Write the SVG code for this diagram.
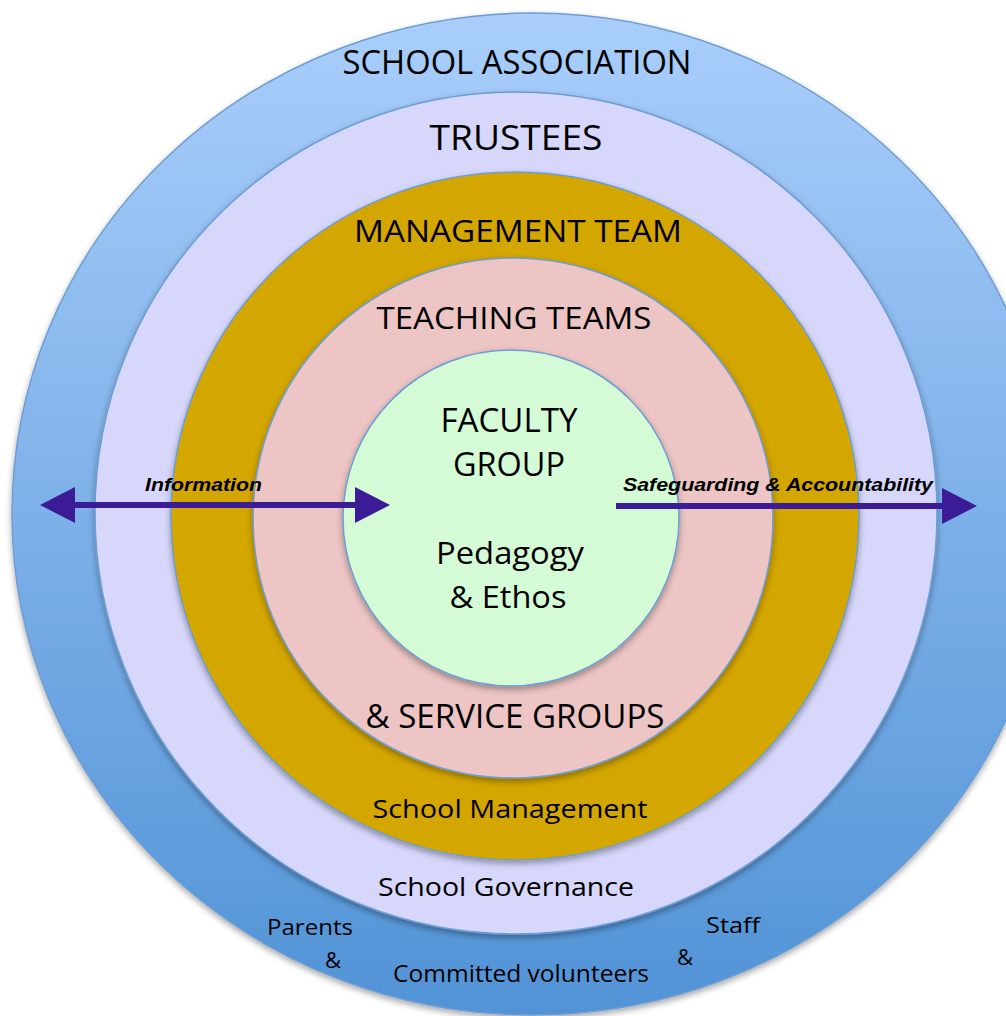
<svg xmlns="http://www.w3.org/2000/svg" width="1006" height="1016" viewBox="0 0 1006 1016">
  <defs>
    <linearGradient id="gOuter" x1="0" y1="0" x2="0" y2="1">
      <stop offset="0" stop-color="#a9cefb"/>
      <stop offset="1" stop-color="#5193d6"/>
    </linearGradient>
    <filter id="shadow" x="-10%" y="-10%" width="120%" height="120%">
      <feDropShadow dx="0" dy="3" stdDeviation="3" flood-color="#000" flood-opacity="0.35"/>
    </filter>
    <marker id="head" markerUnits="userSpaceOnUse" markerWidth="36" markerHeight="36" refX="0" refY="18" orient="auto-start-reverse" viewBox="0 0 36 36">
      <path d="M0,0 L35,18 L0,36 Z" fill="#3b1c96"/>
    </marker>
    <style>
      .ring { stroke: #6d9dd2; stroke-width: 1.5; filter: url(#shadow); }
      .lbl { font-family: "Open Sans", "Noto Sans", sans-serif; fill: #000; text-anchor: middle; }
      .it { font-family: "Liberation Sans", Arial, sans-serif; font-weight: bold; font-style: italic; fill: #000; }
      .conn { stroke: #3b1c96; stroke-width: 6; fill: none; }
    </style>
  </defs>
  <rect width="1006" height="1016" fill="#fff"/>

  <g id="school-association">
    <ellipse class="ring" cx="532" cy="514" rx="520" ry="501" fill="url(#gOuter)"/>
    <text class="lbl" x="517" y="74" font-size="32" textLength="349" lengthAdjust="spacingAndGlyphs">SCHOOL ASSOCIATION</text>
    <text class="lbl" x="310" y="935" font-size="22" textLength="86" lengthAdjust="spacingAndGlyphs">Parents</text>
    <text class="lbl" x="333" y="968" font-size="22">&amp;</text>
    <text class="lbl" x="521" y="982" font-size="23" textLength="256" lengthAdjust="spacingAndGlyphs">Committed volunteers</text>
    <text class="lbl" x="733" y="933" font-size="22" textLength="54" lengthAdjust="spacingAndGlyphs">Staff</text>
    <text class="lbl" x="685" y="965" font-size="22">&amp;</text>
  </g>

  <g id="trustees">
    <circle class="ring" cx="516" cy="513" r="421" fill="#d6d7fb"/>
    <text class="lbl" x="516" y="150" font-size="35" textLength="173" lengthAdjust="spacingAndGlyphs">TRUSTEES</text>
    <text class="lbl" x="506" y="896" font-size="26" textLength="256" lengthAdjust="spacingAndGlyphs">School Governance</text>
  </g>

  <g id="management-team">
    <circle class="ring" cx="515" cy="516" r="344" fill="#d4a600"/>
    <text class="lbl" x="518" y="242" font-size="31" textLength="328" lengthAdjust="spacingAndGlyphs">MANAGEMENT TEAM</text>
    <text class="lbl" x="510" y="818" font-size="26" textLength="275" lengthAdjust="spacingAndGlyphs">School Management</text>
  </g>

  <g id="teaching-teams">
    <circle class="ring" cx="513" cy="518" r="260" fill="#ecc5c4"/>
    <text class="lbl" x="514" y="329" font-size="31" textLength="275" lengthAdjust="spacingAndGlyphs">TEACHING TEAMS</text>
    <text class="lbl" x="515" y="728" font-size="32" textLength="299" lengthAdjust="spacingAndGlyphs">&amp; SERVICE GROUPS</text>
  </g>

  <g id="faculty-group">
    <circle class="ring" cx="511" cy="518" r="168" fill="#d5fbd6"/>
    <text class="lbl" x="509" y="432" font-size="32" textLength="137" lengthAdjust="spacingAndGlyphs">FACULTY</text>
    <text class="lbl" x="509" y="476" font-size="32" textLength="112" lengthAdjust="spacingAndGlyphs">GROUP</text>
    <text class="lbl" x="510" y="564" font-size="31" textLength="148" lengthAdjust="spacingAndGlyphs">Pedagogy</text>
    <text class="lbl" x="508" y="608" font-size="31" textLength="117" lengthAdjust="spacingAndGlyphs">&amp; Ethos</text>
  </g>

  <g id="connectors">
    <line class="conn" x1="75" y1="505" x2="355" y2="505" marker-start="url(#head)" marker-end="url(#head)"/>
    <line class="conn" x1="616" y1="506" x2="942" y2="506" marker-end="url(#head)"/>
    <text class="it" x="145" y="491" font-size="19" textLength="117" lengthAdjust="spacingAndGlyphs">Information</text>
    <text class="it" x="623" y="491" font-size="18" textLength="310" lengthAdjust="spacingAndGlyphs">Safeguarding &amp; Accountability</text>
  </g>
</svg>
